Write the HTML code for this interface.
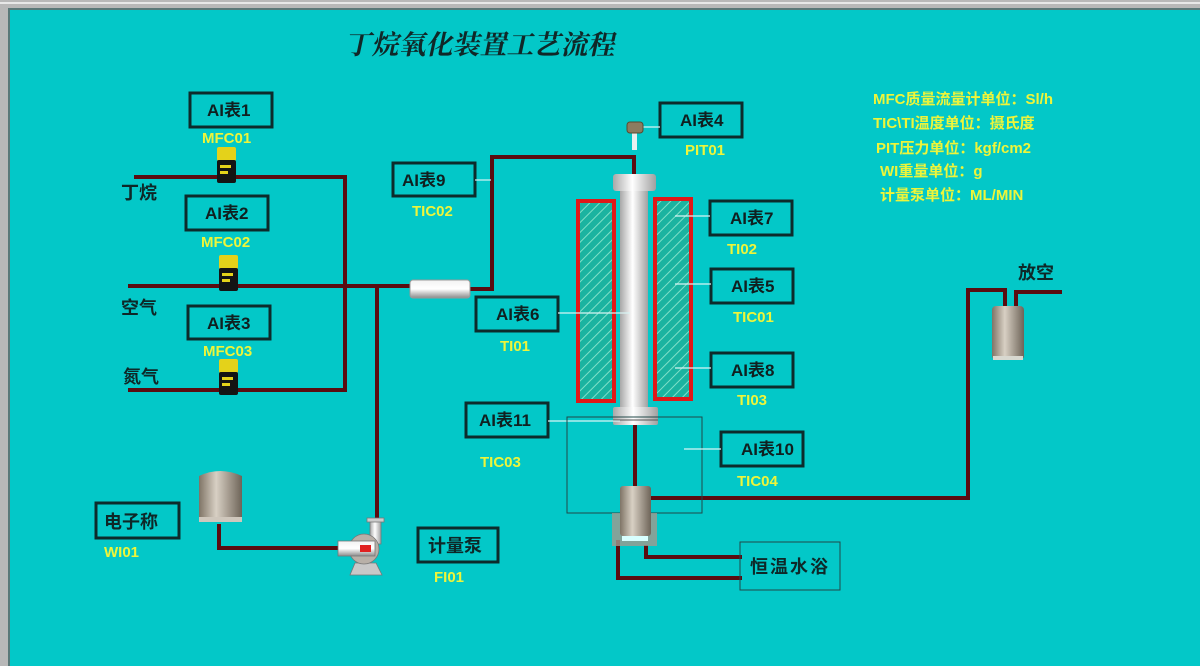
<!DOCTYPE html>
<html><head><meta charset="utf-8"><style>
html,body{margin:0;padding:0;width:1200px;height:666px;overflow:hidden;background:#03c8c8}
svg{display:block}
text{font-family:"Liberation Sans","Noto Sans CJK SC",sans-serif}
.bx{fill:none;stroke:#0d2b2b;stroke-width:3}
.bt{font-size:17px;font-weight:bold;fill:#102020}
.yl{font-size:15px;font-weight:bold;fill:#eef53a}
.p{fill:none;stroke:#5a0c10;stroke-width:4;stroke-linejoin:miter}
.ln{stroke:#d8f4f4;stroke-width:1.2}
.cn{font-size:18px;fill:#0e2828;font-weight:bold;font-family:"Noto Sans CJK SC",sans-serif}
</style></head><body>
<svg width="1200" height="666" viewBox="0 0 1200 666">
<defs>
<linearGradient id="cyl" x1="0" x2="1"><stop offset="0" stop-color="#a8a8a8"/><stop offset=".45" stop-color="#ffffff"/><stop offset="1" stop-color="#a0a0a0"/></linearGradient>
<linearGradient id="tank" x1="0" x2="1"><stop offset="0" stop-color="#7f7466"/><stop offset=".4" stop-color="#d8d0c4"/><stop offset="1" stop-color="#6e6458"/></linearGradient>
<linearGradient id="hx" x1="0" y1="0" x2="0" y2="1"><stop offset="0" stop-color="#f2f2f2"/><stop offset=".5" stop-color="#ffffff"/><stop offset="1" stop-color="#8c8c8c"/></linearGradient>
<pattern id="hatch" width="7" height="7" patternUnits="userSpaceOnUse" patternTransform="rotate(45)"><rect width="7" height="7" fill="#1bb3a0"/><line x1="0" y1="0" x2="0" y2="7" stroke="#7fe0c8" stroke-width="2"/></pattern>
</defs>
<rect x="0" y="0" width="1200" height="8" fill="#b8b8b8"/>
<rect x="0" y="0" width="8" height="666" fill="#b8b8b8"/>
<rect x="0" y="2" width="1200" height="2" fill="#e8e8e8"/>
<rect x="8" y="8" width="1192" height="2" fill="#5a7878"/>
<rect x="8" y="8" width="2" height="658" fill="#5a7878"/>

<text x="346" y="54" font-size="27" font-weight="bold" fill="#102828" style="font-family:'Noto Serif CJK SC','Noto Sans CJK SC',serif" transform="skewX(-12) translate(10,0)">丁烷氧化装置工艺流程</text>

<g class="yl">
<text x="873" y="104">MFC质量流量计单位：Sl/h</text>
<text x="873" y="128">TIC\TI温度单位：摄氏度</text>
<text x="876" y="153">PIT压力单位：kgf/cm2</text>
<text x="880" y="176">WI重量单位：g</text>
<text x="880" y="200">计量泵单位：ML/MIN</text>
</g>

<path class="p" d="M134 177H345V390H128"/>
<path class="p" d="M128 286H412"/>
<path class="p" d="M377 286V522"/>
<path class="p" d="M470 289H492V157H634V176"/>
<path class="p" d="M219 524V548H340"/>
<path class="p" d="M635 424V488"/>
<path class="p" d="M650 498H968V290H1005V308"/>
<path class="p" d="M1016 308V292H1062"/>
<path class="p" d="M618 540V578H742"/>
<path class="p" d="M646 545V557H742"/>

<g id="mfc">
<rect x="217" y="147" width="19" height="14" fill="#e4d21a" rx="2"/>
<rect x="217" y="160" width="19" height="23" fill="#141414" rx="2"/>
<rect x="220" y="165" width="11" height="3" fill="#e4d21a"/>
<rect x="220" y="171" width="8" height="3" fill="#e4d21a"/>
</g>
<use href="#mfc" transform="translate(2,108)"/>
<use href="#mfc" transform="translate(2,212)"/>

<text class="cn" x="121" y="199">丁烷</text>
<text class="cn" x="121" y="314">空气</text>
<text class="cn" x="123" y="383">氮气</text>

<rect class="bx" x="190" y="93" width="82" height="34"/><text class="bt" x="207" y="116">AI表1</text><text class="yl" x="202" y="143">MFC01</text>
<rect class="bx" x="186" y="196" width="82" height="34"/><text class="bt" x="205" y="219">AI表2</text><text class="yl" x="201" y="247">MFC02</text>
<rect class="bx" x="188" y="306" width="82" height="33"/><text class="bt" x="207" y="329">AI表3</text><text class="yl" x="203" y="356">MFC03</text>
<rect class="bx" x="393" y="163" width="82" height="33"/><text class="bt" x="402" y="186">AI表9</text><text class="yl" x="412" y="216">TIC02</text>
<line class="ln" x1="475" y1="180" x2="491" y2="180"/>

<rect class="bx" x="660" y="103" width="82" height="34"/><text class="bt" x="680" y="126">AI表4</text><text class="yl" x="685" y="155">PIT01</text>
<line class="ln" x1="643" y1="127" x2="660" y2="127"/>

<rect x="410" y="280" width="60" height="18" rx="3" fill="url(#hx)" stroke="#999" stroke-width="1"/>

<rect x="632" y="132" width="5" height="18" fill="#e8f0f0"/>
<rect x="627" y="122" width="16" height="11" rx="3" fill="#8c7c60" stroke="#5a4a30" stroke-width="1"/>

<rect x="578" y="201" width="36" height="200" fill="url(#hatch)" stroke="#e01818" stroke-width="4"/>
<rect x="655" y="199" width="36" height="200" fill="url(#hatch)" stroke="#e01818" stroke-width="4"/>
<rect x="620" y="188" width="28" height="224" fill="url(#cyl)"/>
<rect x="613" y="174" width="43" height="17" rx="3" fill="url(#cyl)"/>
<rect x="613" y="407" width="45" height="18" rx="2" fill="url(#cyl)"/>
<line x1="613" y1="420" x2="658" y2="420" stroke="#555" stroke-width="1"/>

<rect class="bx" x="710" y="201" width="82" height="34"/><text class="bt" x="730" y="224">AI表7</text><text class="yl" x="727" y="254">TI02</text>
<line class="ln" x1="675" y1="216" x2="710" y2="216"/>
<rect class="bx" x="711" y="269" width="82" height="34"/><text class="bt" x="731" y="292">AI表5</text><text class="yl" x="733" y="322">TIC01</text>
<line class="ln" x1="675" y1="284" x2="711" y2="284"/>
<rect class="bx" x="711" y="353" width="82" height="34"/><text class="bt" x="731" y="376">AI表8</text><text class="yl" x="737" y="405">TI03</text>
<line class="ln" x1="675" y1="368" x2="711" y2="368"/>
<rect class="bx" x="476" y="297" width="82" height="34"/><text class="bt" x="496" y="320">AI表6</text><text class="yl" x="500" y="351">TI01</text>
<line class="ln" x1="558" y1="313" x2="630" y2="313"/>
<rect class="bx" x="466" y="403" width="82" height="34"/><text class="bt" x="479" y="426">AI表11</text><text class="yl" x="480" y="467">TIC03</text>
<line class="ln" x1="548" y1="421" x2="620" y2="421"/>

<rect x="567" y="417" width="135" height="96" fill="none" stroke="#224848" stroke-width="1"/>
<rect class="bx" x="721" y="432" width="82" height="34"/><text class="bt" x="741" y="455">AI表10</text><text class="yl" x="737" y="486">TIC04</text>
<line class="ln" x1="684" y1="449" x2="721" y2="449"/>

<rect x="612" y="513" width="45" height="33" fill="#a29a8e" opacity=".8"/>
<rect x="620" y="486" width="31" height="50" rx="3" fill="url(#tank)"/>
<rect x="622" y="536" width="26" height="5" fill="#d8ffff"/>

<rect x="740" y="542" width="100" height="48" fill="none" stroke="#224848" stroke-width="1"/>
<text class="cn" x="750" y="573" style="letter-spacing:2px">恒温水浴</text>

<rect x="992" y="306" width="32" height="54" rx="4" fill="url(#tank)"/>
<rect x="993" y="356" width="30" height="4" fill="#d8d8d0"/>
<text class="cn" x="1018" y="279">放空</text>

<path d="M199 476Q220 466 242 476V518H199Z" fill="url(#tank)"/>
<rect x="199" y="517" width="43" height="5" fill="#cfc7bc"/>
<rect class="bx" x="96" y="503" width="83" height="35"/><text class="cn" x="104" y="528">电子称</text>
<text class="yl" x="104" y="557">WI01</text>

<rect x="370" y="520" width="11" height="24" fill="url(#cyl)" stroke="#777" stroke-width=".8"/>
<rect x="367" y="518" width="17" height="4" fill="#ccc" stroke="#777" stroke-width=".8"/>
<path d="M350 575L355 563H376L382 575Z" fill="#c8c8c8" stroke="#777" stroke-width=".8"/>
<circle cx="364" cy="549" r="15" fill="#b8b0a8" stroke="#777" stroke-width=".8"/>
<rect x="338" y="541" width="37" height="15" fill="url(#hx)" stroke="#777" stroke-width=".8"/>
<rect x="360" y="545" width="11" height="7" fill="#e02020"/>
<rect class="bx" x="418" y="528" width="80" height="34"/><text class="cn" x="428" y="552">计量泵</text>
<text class="yl" x="434" y="582">FI01</text>
</svg>
</body></html>
